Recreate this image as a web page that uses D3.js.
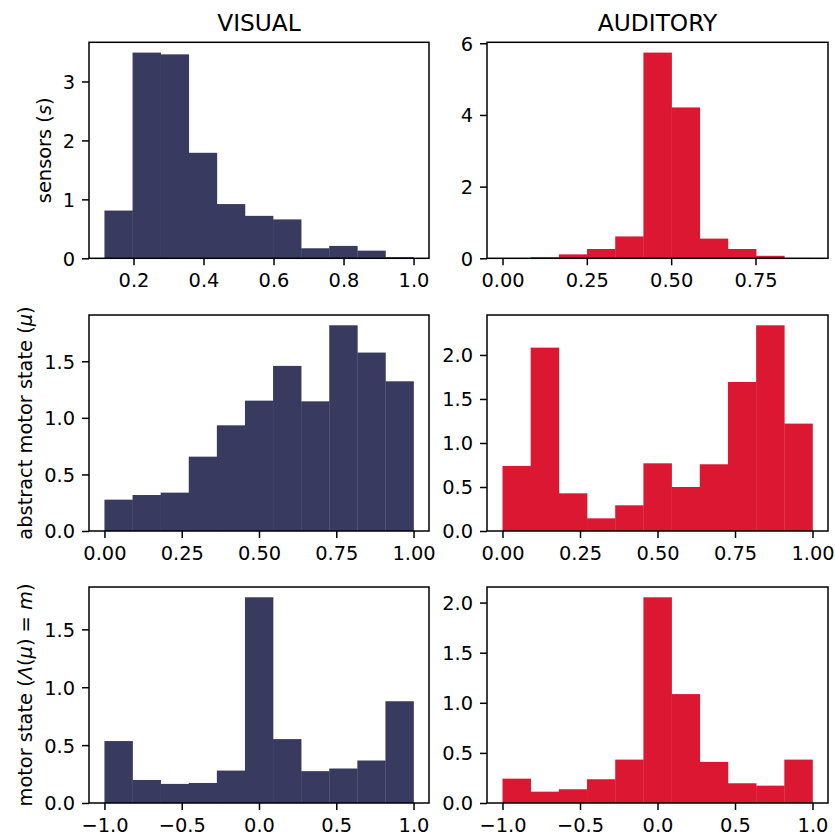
<!DOCTYPE html>
<html>
<head>
<meta charset="utf-8">
<script src="https://cdn.jsdelivr.net/npm/d3@7"></script>
<style>
  body { margin: 0; background: #fff; }
  svg { font-family: "DejaVu Sans", sans-serif; }
</style>
</head>
<body>
<div id="d3-container"></div>
<script>
// histogram densities, 11 bins each
const visSensorRange = [0.117, 1.0];
const visSensor = [0.81, 3.49, 3.46, 1.79, 0.92, 0.72, 0.66, 0.17, 0.21, 0.13, 0.02];
const audSensorRange = [0.0, 0.919];
const audSensor = [0.005, 0.03, 0.11, 0.26, 0.61, 5.74, 4.21, 0.55, 0.26, 0.07, 0.01];

const visMuRange = [0, 1];
const visMu = [0.277, 0.318, 0.339, 0.657, 0.934, 1.152, 1.459, 1.146, 1.818, 1.577, 1.323];
const audMuRange = [0, 1];
const audMu = [0.739, 2.083, 0.428, 0.144, 0.292, 0.769, 0.5, 0.758, 1.693, 2.337, 1.22];

const visMRange = [-1, 1];
const visM = [0.535, 0.199, 0.165, 0.173, 0.28, 1.777, 0.552, 0.275, 0.298, 0.367, 0.879];
const audMRange = [-1, 1];
const audM = [0.243, 0.113, 0.137, 0.237, 0.433, 2.053, 1.087, 0.41, 0.197, 0.173, 0.433];

// tick values
const xTicksVisSensor = [0.2, 0.4, 0.6, 0.8, 1.0];
const xTicksAudSensor = [0, 0.25, 0.5, 0.75];
const xTicksMu = [0, 0.25, 0.5, 0.75, 1.0];
const xTicksM = [-1, -0.5, 0, 0.5, 1];
const yTicksVisSensor = [0, 1, 2, 3];
const yTicksAudSensor = [0, 2, 4, 6];
const yTicksVisMu = [0, 0.5, 1, 1.5];
const yTicksAudMu = [0, 0.5, 1, 1.5, 2];
const yTicksVisM = [0, 0.5, 1, 1.5];
const yTicksAudM = [0, 0.5, 1, 1.5, 2];

const colTitles = ["VISUAL", "AUDITORY"];
const navy = "#393a5f";
const red = "#dc1732";

const width = 835;
const height = 837;
const cols = [[89, 429], [487, 828]];
const rows = [[42.3, 258.3], [315, 531], [587, 803]];
const fontSize = 19.4;

const svg = d3.select('#d3-container')
    .append('svg')
    .attr('width', width)
    .attr('height', height);

const panels = [
    {r: 0, c: 0, data: visSensor, range: visSensorRange, xt: xTicksVisSensor, xf: ".1f", yt: yTicksVisSensor, yf: "d", color: navy},
    {r: 0, c: 1, data: audSensor, range: audSensorRange, xt: xTicksAudSensor, xf: ".2f", yt: yTicksAudSensor, yf: "d", color: red},
    {r: 1, c: 0, data: visMu, range: visMuRange, xt: xTicksMu, xf: ".2f", yt: yTicksVisMu, yf: ".1f", color: navy},
    {r: 1, c: 1, data: audMu, range: audMuRange, xt: xTicksMu, xf: ".2f", yt: yTicksAudMu, yf: ".1f", color: red},
    {r: 2, c: 0, data: visM, range: visMRange, xt: xTicksM, xf: ".1f", yt: yTicksVisM, yf: ".1f", color: navy},
    {r: 2, c: 1, data: audM, range: audMRange, xt: xTicksM, xf: ".1f", yt: yTicksAudM, yf: ".1f", color: red}
];

panels.forEach(p => {
    const [x0, x1] = cols[p.c];
    const [y0, y1] = rows[p.r];
    const lo = p.range[0], hi = p.range[1];
    const n = p.data.length;
    const step = (hi - lo) / n;
    const pad = 0.05 * (hi - lo);

    const x = d3.scaleLinear().domain([lo - pad, hi + pad]).range([x0, x1]);
    const y = d3.scaleLinear().domain([0, d3.max(p.data) * 1.05]).range([y1, y0]);

    const bins = p.data.map((v, i) => ({a: lo + i * step, b: lo + (i + 1) * step, v: v}));

    const g = svg.append("g");
    g.append("g")
        .attr("fill", p.color)
        .selectAll("rect")
        .data(bins)
        .join("rect")
        .attr("x", d => x(d.a))
        .attr("width", d => x(d.b) - x(d.a) + 0.3)
        .attr("y", d => y(d.v))
        .attr("height", d => y(0) - y(d.v));

    function xAxis(gg) {
        gg.attr("transform", `translate(0,${y1})`)
            .call(d3.axisBottom(x).tickValues(p.xt).tickFormat(d3.format(p.xf)).tickSizeOuter(0).tickSize(7).tickPadding(7))
            .attr("font-size", fontSize)
            .attr("font-family", "DejaVu Sans");
    }
    function yAxis(gg) {
        gg.attr("transform", `translate(${x0},0)`)
            .call(d3.axisLeft(y).tickValues(p.yt).tickFormat(d3.format(p.yf)).tickSizeOuter(0).tickSize(7).tickPadding(7))
            .attr("font-size", fontSize)
            .attr("font-family", "DejaVu Sans");
    }
    const xa = g.append("g").call(xAxis);
    const ya = g.append("g").call(yAxis);
    xa.select(".domain").remove();
    ya.select(".domain").remove();
    xa.selectAll(".tick line").attr("stroke-width", 1.5);
    ya.selectAll(".tick line").attr("stroke-width", 1.5);
    xa.selectAll(".tick text").attr("fill", "#000").attr("dy", "0.76em");
    ya.selectAll(".tick text").attr("fill", "#000").attr("dy", "0.36em");

    g.append("rect")
        .attr("x", x0).attr("y", y0)
        .attr("width", x1 - x0).attr("height", y1 - y0)
        .attr("fill", "none")
        .attr("stroke", "#000")
        .attr("stroke-width", 1.5);
});

// column titles
colTitles.forEach((t, i) => {
    svg.append("text")
        .attr("x", (cols[i][0] + cols[i][1]) / 2)
        .attr("y", 30.6)
        .attr("text-anchor", "middle")
        .attr("font-size", 23.3)
        .text(t);
});

// y labels (left column)
function yLabel(row, bx, parts) {
    const cy = (rows[row][0] + rows[row][1]) / 2;
    const t = svg.append("text")
        .attr("transform", `translate(${bx},${cy}) rotate(-90)`)
        .attr("text-anchor", "middle")
        .attr("font-size", fontSize);
    parts.forEach(pt => {
        t.append("tspan")
            .attr("font-style", pt[1] ? "italic" : "normal")
            .text(pt[0]);
    });
}
yLabel(0, 50.5, [["sensors (", false], ["s", true], [")", false]]);
yLabel(1, 32.2, [["abstract motor state (", false], ["μ", true], [")", false]]);
yLabel(2, 32.2, [["motor state (", false], ["Λ", true], ["(", false], ["μ", true], [") = ", false], ["m", true], [")", false]]);
</script>
</body>
</html>
